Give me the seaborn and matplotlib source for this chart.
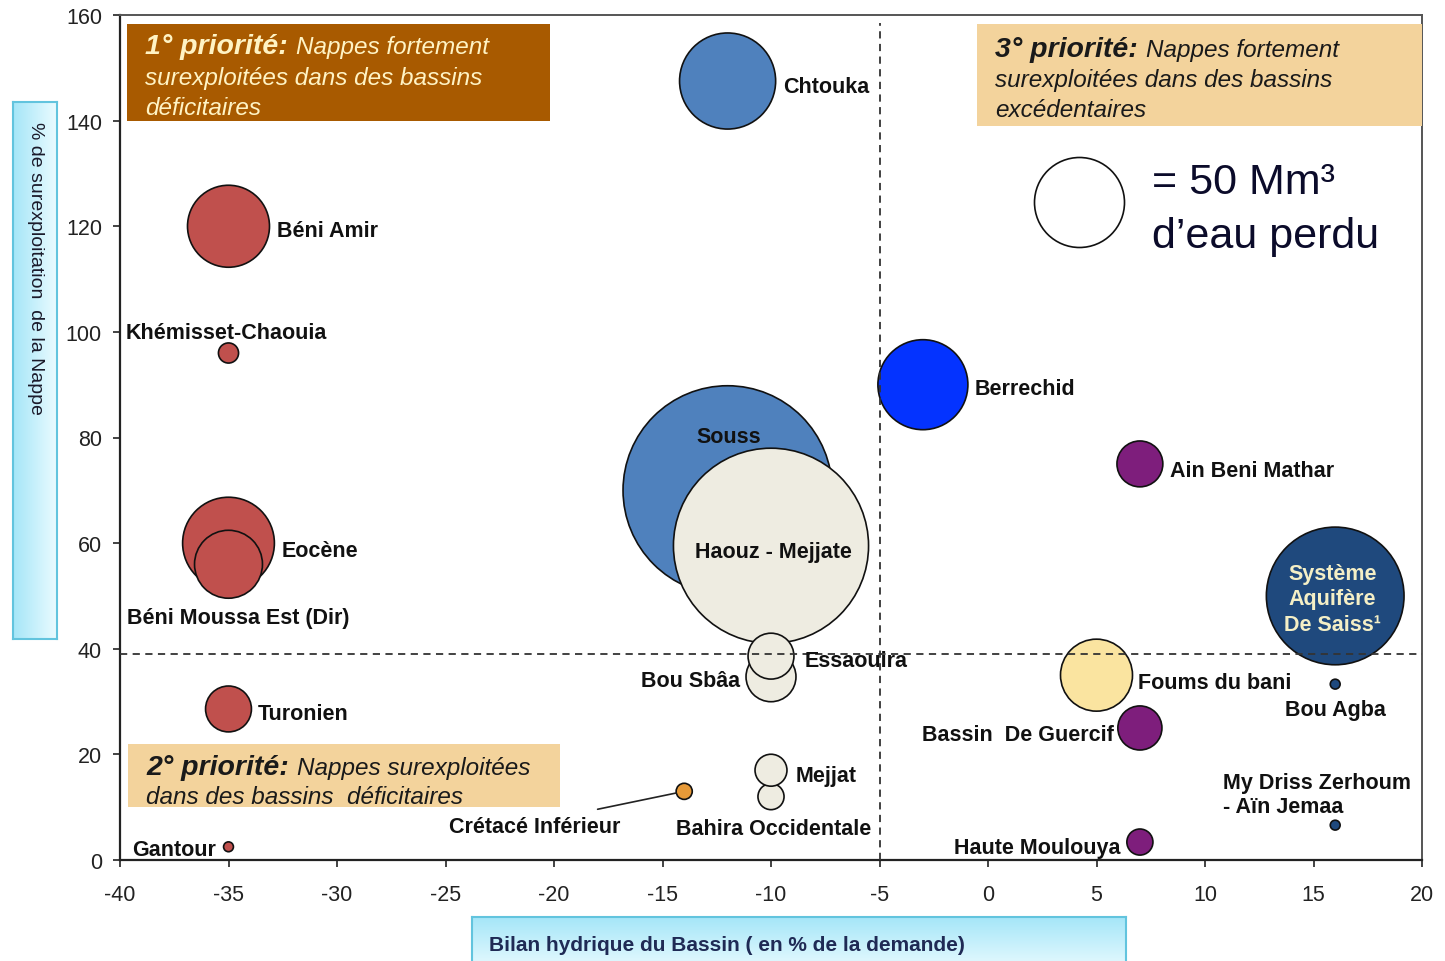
import numpy as np
import pandas as pd
import matplotlib
matplotlib.use("Agg")
import matplotlib.pyplot as plt
import seaborn as sns
from matplotlib.colors import LinearSegmentedColormap

sns.set_style("white")
plt.rcParams['font.family'] = ['Liberation Sans', 'DejaVu Sans']
plt.rcParams['axes.unicode_minus'] = False

# nappes (ordre = ordre de dessin)
names = ["Chtouka", "Béni Amir", "Khémisset-Chaouia", "Eocène", "Béni Moussa Est (Dir)",
         "Turonien", "Gantour", "Souss", "Haouz - Mejjate", "Bou Sbâa", "Essaouira",
         "Bahira Occidentale", "Mejjat", "Crétacé Inférieur", "Berrechid", "Ain Beni Mathar",
         "Système\nAquifère\nDe Saiss¹", "Foums du bani", "Bou Agba", "Bassin  De Guercif",
         "My Driss Zerhoum\n- Aïn Jemaa", "Haute Moulouya"]
bilan = [-12, -35, -35, -35, -35, -35, -35, -12, -10, -10, -10, -10, -10, -14,
         -3, 7, 16, 5, 16, 7, 16, 7]
surexpl = [147.5, 120, 96, 60, 56, 28.6, 2.5, 70, 59.5, 34.7, 38.6, 12, 17, 13,
           90, 75, 50, 35, 33.3, 25, 6.6, 3.4]
volume = [57, 41.5, 2.5, 52, 28.5, 13, 0.6, 270, 235, 15.4, 13, 4.2, 6.3, 1.6,
          50, 13, 117, 32, 0.6, 12, 0.6, 4.2]
groupe = ["souss", "tadla", "tadla", "tadla", "tadla", "tadla", "tadla", "souss",
          "tensift", "tensift", "tensift", "tensift", "tensift", "cretace",
          "chaouia", "moulouya", "sebou", "draa", "sebou", "moulouya", "sebou", "moulouya"]

palette = {"tadla": "#C0504D", "souss": "#4F81BD", "tensift": "#EEECE1",
           "cretace": "#E79A38", "chaouia": "#0433FF", "moulouya": "#7E1E7C",
           "sebou": "#1F497D", "draa": "#FAE4A0"}

ref_volume = 50  # = 50 Mm3 d'eau perdu

df = pd.DataFrame({"nom": names, "bilan": bilan, "surexpl": surexpl,
                   "volume": volume, "groupe": groupe})

# label offsets in points (dx, dy, ha)
offsets = {
    "Chtouka": (40, -4, "left"), "Béni Amir": (35, -3, "left"),
    "Khémisset-Chaouia": (-74, 15, "left"), "Eocène": (38, -5, "left"),
    "Béni Moussa Est (Dir)": (-73, -38, "left"), "Turonien": (21, -3, "left"),
    "Gantour": (-9, -2, "right"), "Souss": (1, 39, "center"),
    "Haouz - Mejjate": (2, -4, "center"), "Essaouira": (24, -3, "left"),
    "Bou Sbâa": (-22, -3, "right"), "Mejjat": (18, -4, "left"),
    "Bahira Occidentale": (2, -23, "center"), "Berrechid": (37, -3, "left"),
    "Ain Beni Mathar": (22, -5, "left"), "Système\nAquifère\nDe Saiss¹": (-2, -2, "center"),
    "Foums du bani": (30, -5, "left"), "Bou Agba": (0, -18, "center"),
    "Bassin  De Guercif": (-19, -5, "right"), "My Driss Zerhoum\n- Aïn Jemaa": (-81, 22, "left"),
    "Haute Moulouya": (-14, -4, "right"),
}

fig = plt.figure(figsize=(14.45, 9.62), dpi=100)
ax = fig.add_axes([120 / 1445, 1 - 861 / 962, 1302 / 1445, 845 / 962])

s_norm = (0, 300)
s_range = (0, 4199 * 300 / 50)
sns.scatterplot(data=df, x="bilan", y="surexpl", hue="groupe", palette=palette,
                size="volume", sizes=s_range, size_norm=s_norm,
                edgecolor="#111111", linewidth=1.2, alpha=1, legend=False, ax=ax, zorder=3)

# reference bubble
sns.scatterplot(x=[4.2], y=[124.6], size=[ref_volume], sizes=s_range, size_norm=s_norm,
                color="white", edgecolor="#111111", linewidth=1.2, legend=False, ax=ax, zorder=3)
ax.text(0.793, 0.802, "= 50 Mm³", transform=ax.transAxes, fontsize=31,
        color="#0b0b2a", va="center")
ax.text(0.793, 0.739, "d\u2019eau perdu", transform=ax.transAxes, fontsize=31,
        color="#0b0b2a", va="center")

for _, r in df.iterrows():
    if r["nom"] == "Crétacé Inférieur":
        continue
    dx, dy, ha = offsets[r["nom"]]
    saiss = r["nom"].startswith("Système")
    col = "#F4EFC6" if saiss else "#111111"
    ax.annotate(r["nom"], xy=(r["bilan"], r["surexpl"]), xytext=(dx, dy),
                textcoords="offset points", ha=ha, va="center", fontsize=15.5,
                fontweight="bold", color=col, zorder=5,
                linespacing=1.28 if saiss else 1.15)

cret = df[df["nom"] == "Crétacé Inférieur"].iloc[0]
ax.annotate("Crétacé Inférieur", xy=(cret["bilan"], cret["surexpl"]), xytext=(-108, -25),
            textcoords="offset points", ha="center", va="center", fontsize=15.5,
            fontweight="bold", color="#111111", zorder=5,
            arrowprops=dict(arrowstyle="-", color="#222222", lw=1.2,
                            relpos=(0.87, 1.3), shrinkA=0, shrinkB=6))

# quadrant lines
ax.axvline(-5, ymax=0.99, color="#333333", ls=(0, (4, 3)), lw=1.3, zorder=4)
ax.axhline(39, color="#333333", ls=(0, (4, 3)), lw=1.3, zorder=4)

ax.set_xlim(-40, 20)
ax.set_ylim(0, 160)
ax.set_xticks(np.arange(-40, 21, 5))
ax.set_yticks(np.arange(0, 161, 20))
ax.set_xlabel("")
ax.set_ylabel("")
ax.tick_params(axis="both", labelsize=15.5, colors="#222222", length=5, width=1.2,
               direction="out", bottom=True, left=True)
ax.tick_params(axis="x", pad=12)
ax.tick_params(axis="y", pad=8)
for side in ["left", "bottom"]:
    ax.spines[side].set_color("#222222")
    ax.spines[side].set_linewidth(1.6)
for side in ["top", "right"]:
    ax.spines[side].set_color("#555555")
    ax.spines[side].set_linewidth(1.4)


def box_text(x0, y0, x1, y1, face, lines, col):
    # pixel box on the figure, lines = [(x, y, bold part, italic part), ...]
    fig.patches.append(plt.Rectangle((x0 / 1445, 1 - y1 / 962), (x1 - x0) / 1445,
                                     (y1 - y0) / 962, transform=fig.transFigure,
                                     facecolor=face, edgecolor="none", zorder=1))
    for tx, ty, bold, ital in lines:
        if bold:
            prev = fig.text(tx / 1445, 1 - ty / 962, bold, fontsize=20.5, fontweight="bold",
                            fontstyle="italic", color=col, va="baseline", zorder=6)
            fig.canvas.draw()
            bb = prev.get_window_extent()
            tx = bb.x1 + 8
        fig.text(tx / 1445, 1 - ty / 962, ital, fontsize=17.5, fontstyle="italic",
                 color=col, va="baseline", zorder=6)


box_text(127, 25, 550, 122, "#A85A00",
         [(145, 54, "1° priorité:", "Nappes fortement"),
          (145, 85, "", "surexploitées dans des bassins"),
          (145, 115, "", "déficitaires")], "#FFF3C4")
box_text(977, 25, 1422, 127, "#F3D39C",
         [(995, 57, "3° priorité:", "Nappes fortement"),
          (995, 87, "", "surexploitées dans des bassins"),
          (995, 117, "", "excédentaires")], "#1a1a1a")
box_text(128, 745, 560, 808, "#F3D39C",
         [(146, 775, "2° priorité:", "Nappes surexploitées"),
          (146, 804, "", "dans des bassins  déficitaires")], "#1a1a1a")

# axis title boxes with a light gradient
cyan = LinearSegmentedColormap.from_list("cy", ["#A5E6F8", "#EAFBFF"])
grad = np.linspace(0, 1, 100).reshape(1, -1)

axy = fig.add_axes([13 / 1445, 1 - 640 / 962, 44 / 1445, 537 / 962])
axy.imshow(grad, cmap=cyan, aspect="auto", extent=(0, 1, 0, 1))
axy.set_xticks([])
axy.set_yticks([])
for sp in axy.spines.values():
    sp.set_color("#62C4DE")
    sp.set_linewidth(1.5)
axy.text(0.5, 0.965, "% de surexploitation  de la Nappe", rotation=-90, ha="center",
         va="top", fontsize=14, color="#1a1a2a", transform=axy.transAxes)

axx = fig.add_axes([472 / 1445, -0.01, 654 / 1445, 44 / 962 + 0.01])
axx.imshow(grad.T, cmap=cyan, aspect="auto", extent=(0, 1, 0, 1))
axx.set_xticks([])
axx.set_yticks([])
for sp in axx.spines.values():
    sp.set_color("#62C4DE")
    sp.set_linewidth(1.5)
axx.text(17 / 654, 0.48, "Bilan hydrique du Bassin ( en % de la demande)", ha="left",
         va="center", fontsize=15, fontweight="bold", color="#1F2A55",
         transform=axx.transAxes)

fig.savefig("out.png", dpi=100)
